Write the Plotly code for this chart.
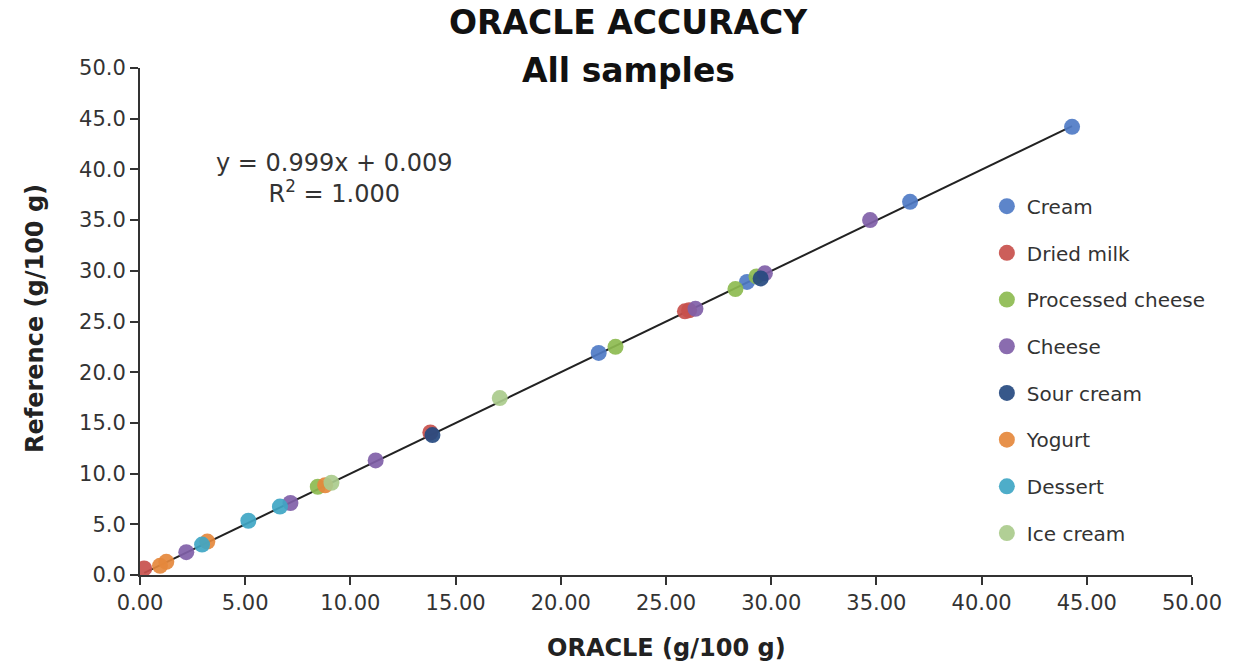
import plotly.graph_objects as go

categories = ["Cream", "Dried milk", "Processed cheese", "Cheese", "Sour cream", "Yogurt", "Dessert", "Ice cream"]
colors = ["#4F7BC6", "#C8504C", "#8DBB50", "#8060A8", "#264A80", "#E5883C", "#3FA6C4", "#AACB8C"]

cream_x = [21.8, 28.85, 36.6, 44.3]
cream_y = [21.9, 28.9, 36.8, 44.2]
dried_x = [0.2, 13.8, 25.9, 26.1]
dried_y = [0.65, 14.05, 26.0, 26.1]
proc_x = [8.45, 22.6, 28.3, 29.3]
proc_y = [8.7, 22.5, 28.2, 29.45]
cheese_x = [2.2, 7.15, 11.2, 26.4, 29.7, 34.7]
cheese_y = [2.25, 7.1, 11.3, 26.25, 29.75, 35.0]
sour_x = [13.9, 29.5]
sour_y = [13.8, 29.25]
yog_x = [0.95, 1.25, 3.2, 8.8]
yog_y = [0.9, 1.3, 3.3, 8.85]
dess_x = [2.95, 5.15, 6.65]
dess_y = [3.0, 5.35, 6.75]
ice_x = [9.1, 17.1]
ice_y = [9.1, 17.45]

series_x = [cream_x, dried_x, proc_x, cheese_x, sour_x, yog_x, dess_x, ice_x]
series_y = [cream_y, dried_y, proc_y, cheese_y, sour_y, yog_y, dess_y, ice_y]

slope = 0.999
intercept = 0.009
fit_x = [0.2, 44.3]

tick_vals = [0, 5, 10, 15, 20, 25, 30, 35, 40, 45, 50]

font_family = "DejaVu Sans, Verdana, sans-serif"

fig = go.Figure()
fig.add_trace(go.Scatter(
    x=fit_x, y=[slope * v + intercept for v in fit_x], mode="lines",
    line=dict(color="#222222", width=2), showlegend=False, hoverinfo="skip"))

for i, (name, col) in enumerate(zip(categories, colors)):
    fig.add_trace(go.Scatter(
        x=series_x[i], y=series_y[i], mode="markers", name=name,
        legendgroup=f"g{i}",
        marker=dict(color=col, size=16, opacity=0.92, line=dict(width=0)),
    ))

fig.add_annotation(
    x=0.185, y=0.783, xref="paper", yref="paper", xanchor="center", yanchor="middle",
    text="y = 0.999x + 0.009<br>R<sup>2</sup> = 1.000", showarrow=False,
    font=dict(size=24, color="#333333", family=font_family), align="center")

fig.add_annotation(
    x=0.464, y=1.0907, xref="paper", yref="paper", xanchor="center", yanchor="middle",
    text="<b>ORACLE ACCURACY</b>", showarrow=False,
    font=dict(size=33, color="#111111", family=font_family))
fig.add_annotation(
    x=0.464, y=0.996, xref="paper", yref="paper", xanchor="center", yanchor="middle",
    text="<b>All samples</b>", showarrow=False,
    font=dict(size=33, color="#111111", family=font_family))

# axis titles
fig.add_annotation(
    x=0.5, y=-0.144, xref="paper", yref="paper", xanchor="center", yanchor="middle",
    text="<b>ORACLE (g/100 g)</b>", showarrow=False,
    font=dict(size=24, color="#222222", family=font_family))
fig.add_annotation(
    x=-0.0998, y=0.505, xref="paper", yref="paper", xanchor="center", yanchor="middle",
    text="<b>Reference (g/100 g)</b>", showarrow=False, textangle=-90,
    font=dict(size=24, color="#222222", family=font_family))

fig.update_layout(
    width=1256, height=664,
    margin=dict(l=140, r=64, t=68, b=89),
    paper_bgcolor="white", plot_bgcolor="white",
    font=dict(family=font_family, color="#333333", size=20),
    legend=dict(x=0.805, y=0.766, xanchor="left", yanchor="top",
                font=dict(size=20, color="#333333"), tracegroupgap=17.7,
                bgcolor="rgba(0,0,0,0)", itemsizing="trace"),
    xaxis=dict(range=[0, 50], tickvals=tick_vals, automargin=False,
               tickformat=".2f", showgrid=False, zeroline=False, showline=True,
               linecolor="#333333", linewidth=2, ticks="outside", ticklen=8,
               tickcolor="#333333", tickwidth=2, tickfont=dict(size=21)),
    yaxis=dict(range=[0, 50], tickvals=tick_vals, automargin=False,
               tickformat=".1f", showgrid=False, zeroline=False, showline=True,
               linecolor="#333333", linewidth=2, ticks="outside", ticklen=8,
               tickcolor="#333333", tickwidth=2, tickfont=dict(size=21)),
)

fig.write_html("out.html")
